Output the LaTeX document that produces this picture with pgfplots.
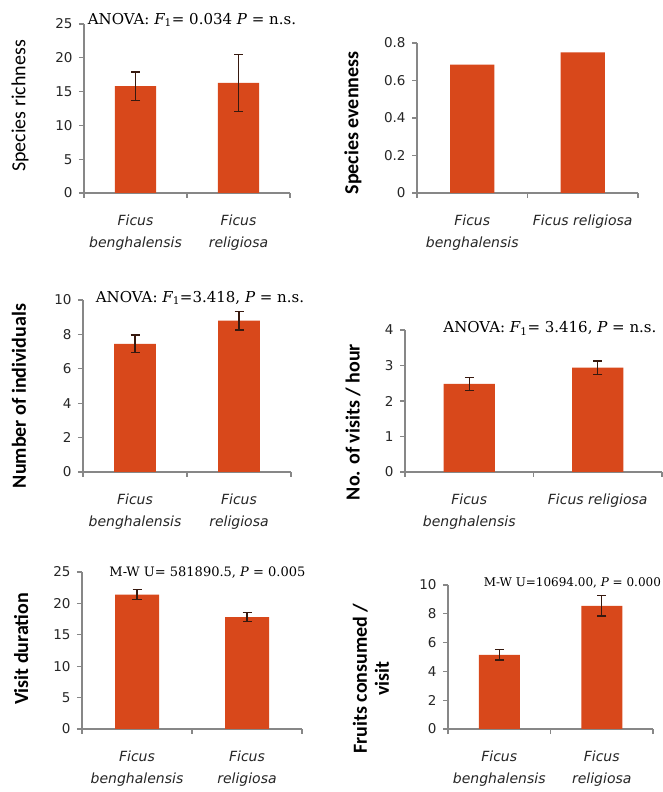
\documentclass[border=0pt]{standalone}
\usepackage{fontspec}
\usepackage{pgfplots}
\pgfplotsset{compat=1.18}

\newfontfamily\lblfont{Carlito}
\newfontfamily\tickfont{DejaVu Sans}
\newfontfamily\notefont{DejaVu Serif}

\definecolor{barfill}{RGB}{216,72,27}
\definecolor{errcol}{RGB}{55,25,15}
\definecolor{axisgray}{RGB}{135,135,135}

\pgfplotsset{
  ficus/.style={
    scale only axis,
    axis lines=left,
    x axis line style={-, axisgray, line width=1.4pt},
    y axis line style={-, axisgray, line width=1.4pt},
    xmin=-0.5, xmax=1.5, ymin=0,
    xtick={-0.5,0.5,1.5}, xticklabels={},
    extra x ticks={0,1},
    extra x tick style={major tick length=0pt, tick style={draw=none}},
    tick align=outside,
    major tick length=5pt,
    tick style={axisgray, line width=1.2pt},
    /pgf/number format/assume math mode=true,
    yticklabel style={font=\tickfont\fontsize{13.5}{16}\selectfont, text=black!85, xshift=-3pt},
    xticklabel style={align=center, font=\tickfont\itshape\fontsize{14}{22}\selectfont, text=black!85, yshift=-18pt},
    ylabel style={font=\lblfont\bfseries\fontsize{20}{22}\selectfont, anchor=center, align=center},
    clip=false,
  },
  bars/.style={
    ybar, bar width=0.4, fill=barfill, draw=none,
    error bars/.cd, y dir=both, y explicit,
    error bar style={errcol, line width=1.3pt},
    error mark options={rotate=90, mark size=4.5pt, errcol, line width=1.3pt},
  },
}

\newcommand{\note}[1]{{\notefont\fontsize{15}{17}\selectfont #1}}

\begin{document}
\begin{tikzpicture}
\useasboundingbox (0,0) rectangle (663pt,792pt);
\fill[white] (0,0) rectangle (663pt,792pt);

% Species richness
\begin{axis}[ficus, at={(84pt,599pt)}, anchor=south west,
  width=206pt, height=169pt, ymax=25, ytick={0,5,...,25},
  extra x tick labels={{Ficus\\benghalensis},{Ficus\\religiosa}},
  ylabel={Species richness},
  ylabel style={font=\lblfont\fontsize{20}{22}\selectfont, at={(axis description cs:-0.311,0.515)}}]
  \addplot[bars] coordinates {(0,15.8) +- (0,2.1) (1,16.3) +- (0,4.2)};
  \node at (axis description cs:0.524,1.024) {\note{ANOVA: {\itshape F}\textsubscript{1}= 0.034 {\itshape P} = n.s.}};
\end{axis}

% Species evenness
\begin{axis}[ficus, at={(417pt,599pt)}, anchor=south west,
  width=221pt, height=150pt, ymax=0.8, ytick={0,0.2,0.4,0.6,0.8},
  yticklabel style={/pgf/number format/.cd, fixed, precision=1},
  extra x tick labels={{Ficus\\benghalensis},{Ficus religiosa}},
  ylabel={Species evenness},
  ylabel style={at={(axis description cs:-0.29,0.467)}}]
  \addplot[ybar, bar width=0.4, fill=barfill, draw=none] coordinates {(0,0.685) (1,0.75)};
\end{axis}

% Number of individuals
\begin{axis}[ficus, at={(83pt,320pt)}, anchor=south west,
  width=208pt, height=172pt, ymax=10, ytick={0,2,...,10},
  extra x tick labels={{Ficus\\benghalensis},{Ficus\\religiosa}},
  ylabel={Number of individuals},
  ylabel style={at={(axis description cs:-0.308,0.442)}}]
  \addplot[bars] coordinates {(0,7.45) +- (0,0.52) (1,8.8) +- (0,0.55)};
  \node at (axis description cs:0.5625,1.012) {\note{ANOVA: {\itshape F}\textsubscript{1}=3.418, {\itshape P} = n.s.}};
\end{axis}

% Visits per hour
\begin{axis}[ficus, at={(405pt,320pt)}, anchor=south west,
  width=257pt, height=142pt, ymax=4, ytick={0,1,...,4},
  extra x tick labels={{Ficus\\benghalensis},{Ficus religiosa}},
  ylabel={No. of visits / hour},
  ylabel style={at={(axis description cs:-0.202,0.352)}}]
  \addplot[bars] coordinates {(0,2.48) +- (0,0.18) (1,2.94) +- (0,0.19)};
  \node at (axis description cs:0.564,1.01) {\note{ANOVA: {\itshape F}\textsubscript{1}= 3.416, {\itshape P} = n.s.}};
\end{axis}

% Visit duration
\begin{axis}[ficus, at={(82pt,63pt)}, anchor=south west,
  width=220pt, height=157pt, ymax=25, ytick={0,5,...,25},
  extra x tick labels={{Ficus\\benghalensis},{Ficus\\religiosa}},
  ylabel={Visit duration},
  ylabel style={at={(axis description cs:-0.277,0.51)}}]
  \addplot[bars] coordinates {(0,21.4) +- (0,0.8) (1,17.8) +- (0,0.7)};
  \node at (axis description cs:0.57,0.994) {{\notefont\fontsize{13}{15}\selectfont M-W U= 581890.5, {\itshape P} = 0.005}};
\end{axis}

% Fruits consumed per visit
\begin{axis}[ficus, at={(448pt,63pt)}, anchor=south west,
  width=205pt, height=144pt, ymax=10, ytick={0,2,...,10},
  extra x tick labels={{Ficus\\benghalensis},{Ficus\\religiosa}},
  ylabel={Fruits consumed /\\visit},
  ylabel style={at={(axis description cs:-0.376,0.35)}}]
  \addplot[bars] coordinates {(0,5.15) +- (0,0.35) (1,8.55) +- (0,0.7)};
  \node at (axis description cs:0.607,1.014) {{\notefont\fontsize{12}{14}\selectfont M-W U=10694.00, {\itshape P} = 0.000}};
\end{axis}
\end{tikzpicture}
\end{document}
